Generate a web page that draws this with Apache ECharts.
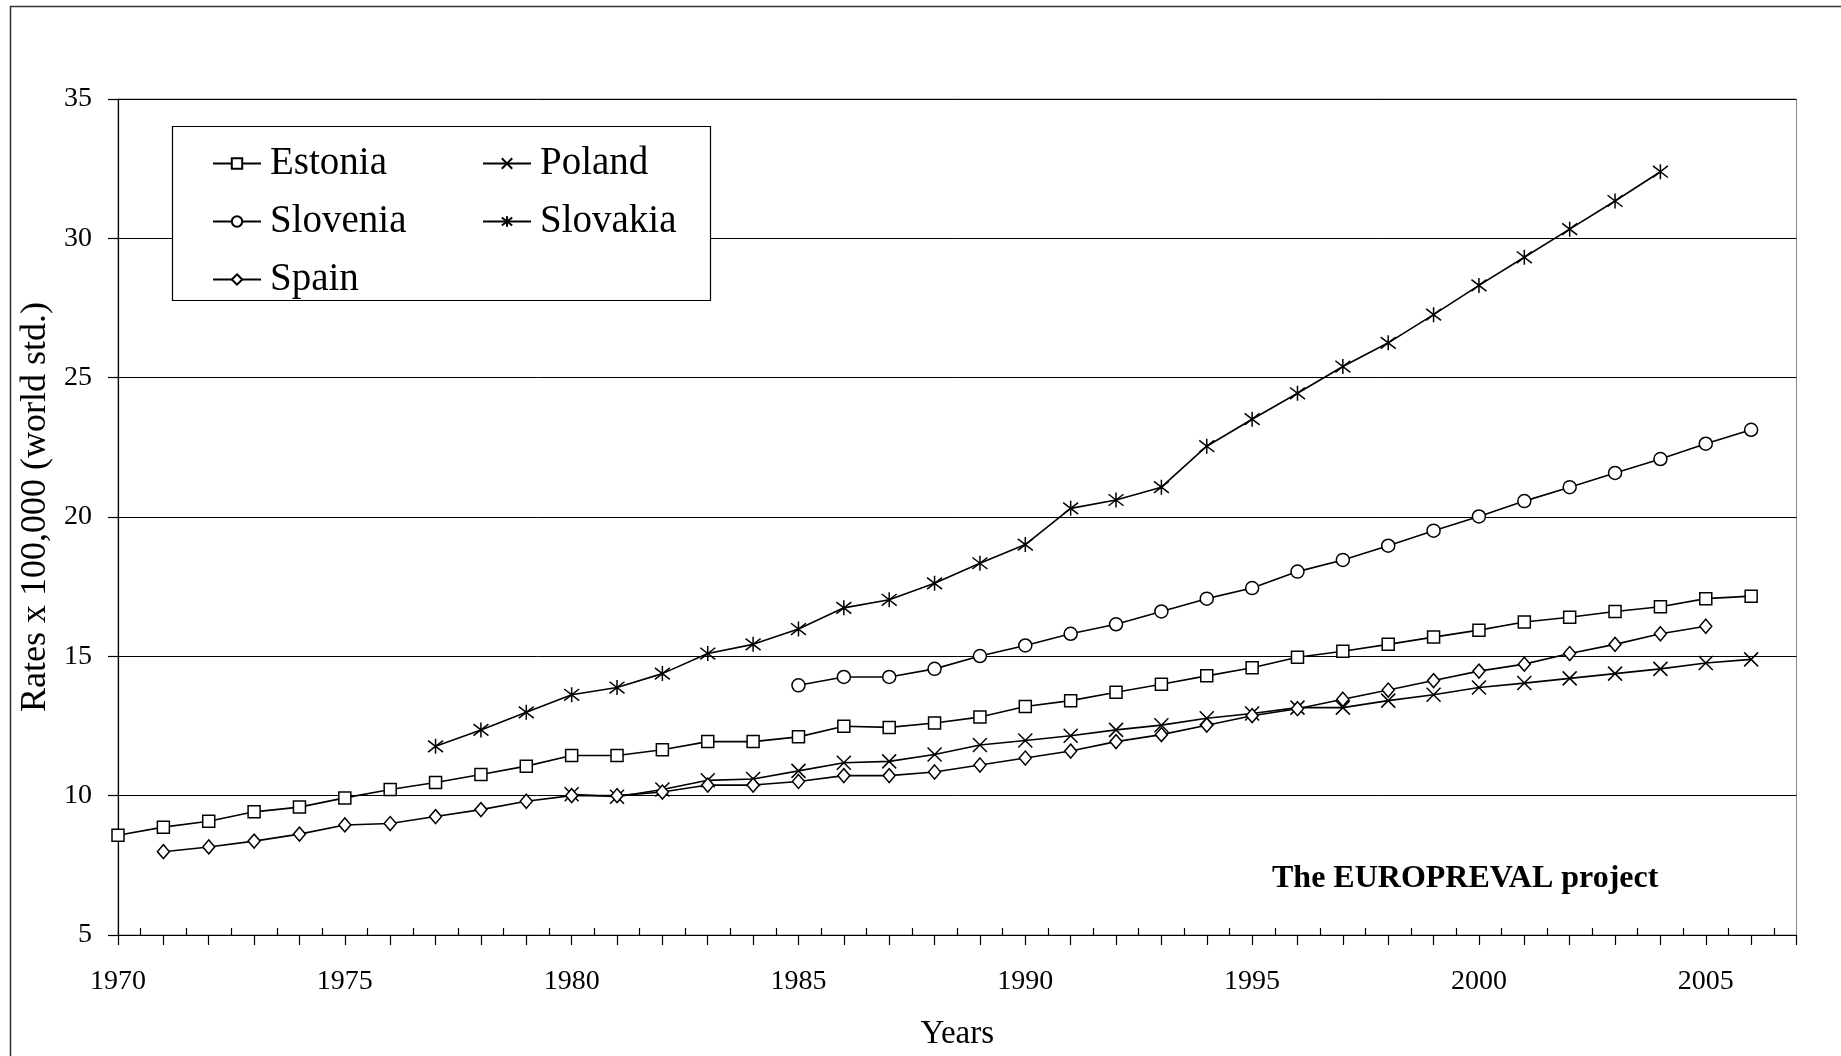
<!DOCTYPE html>
<html>
<head>
<meta charset="utf-8">
<script src="https://cdn.jsdelivr.net/npm/echarts@6/dist/echarts.min.js"></script>
<style>
html,body{margin:0;padding:0;background:#fff;}
#chart{width:1841px;height:1056px;}
</style>
</head>
<body>
<div id="chart"></div>
<script>
// ---- Data ----
const estoniaYears = [1970,1971,1972,1973,1974,1975,1976,1977,1978,1979,1980,1981,1982,1983,1984,1985,1986,1987,1988,1989,1990,1991,1992,1993,1994,1995,1996,1997,1998,1999,2000,2001,2002,2003,2004,2005,2006];
const estoniaValues = [8.58,8.87,9.08,9.42,9.59,9.92,10.22,10.47,10.76,11.06,11.44,11.44,11.65,11.94,11.94,12.11,12.49,12.45,12.61,12.82,13.2,13.41,13.71,14.0,14.3,14.59,14.97,15.18,15.43,15.69,15.94,16.23,16.4,16.61,16.78,17.07,17.16];

const spainYears = [1971,1972,1973,1974,1975,1976,1977,1978,1979,1980,1981,1982,1983,1984,1985,1986,1987,1988,1989,1990,1991,1992,1993,1994,1995,1996,1997,1998,1999,2000,2001,2002,2003,2004,2005];
const spainValues = [7.99,8.16,8.37,8.62,8.95,9.0,9.25,9.5,9.8,10.0,10.0,10.13,10.38,10.38,10.51,10.72,10.72,10.85,11.1,11.35,11.6,11.94,12.19,12.53,12.87,13.12,13.46,13.79,14.13,14.47,14.72,15.1,15.43,15.81,16.08];

const polandYears = [1980,1981,1982,1983,1984,1985,1986,1987,1988,1989,1990,1991,1992,1993,1994,1995,1996,1997,1998,1999,2000,2001,2002,2003,2004,2005,2006];
const polandValues = [10.05,9.96,10.22,10.55,10.6,10.89,11.18,11.23,11.48,11.82,11.98,12.15,12.36,12.53,12.78,12.95,13.16,13.16,13.41,13.62,13.88,14.04,14.21,14.38,14.55,14.76,14.89];

const sloveniaYears = [1985,1986,1987,1988,1989,1990,1991,1992,1993,1994,1995,1996,1997,1998,1999,2000,2001,2002,2003,2004,2005,2006];
const sloveniaValues = [13.96,14.26,14.26,14.55,15.01,15.39,15.81,16.15,16.61,17.07,17.45,18.04,18.46,18.97,19.51,20.02,20.57,21.07,21.58,22.08,22.63,23.13];

const slovakiaYears = [1977,1978,1979,1980,1981,1982,1983,1984,1985,1986,1987,1988,1989,1990,1991,1992,1993,1994,1995,1996,1997,1998,1999,2000,2001,2002,2003,2004];
const slovakiaValues = [11.77,12.36,12.99,13.62,13.88,14.38,15.1,15.43,15.98,16.74,17.03,17.62,18.34,19.01,20.31,20.61,21.07,22.54,23.51,24.44,25.4,26.25,27.26,28.31,29.32,30.33,31.34,32.39];

const yTicks = [5,10,15,20,25,30,35];
const xLabelYears = [1970,1975,1980,1985,1990,1995,2000,2005];

const seriesNames = ['Estonia','Poland','Slovenia','Slovakia','Spain'];
const titleX = 'Years';
const titleY = 'Rates x 100,000 (world std.)';
const note = 'The EUROPREVAL project';

// ---- Chart ----
const FONT = '"Liberation Serif", "Times New Roman", serif';
const pair = (xs, vs) => xs.map((x, i) => [x, vs[i]]);

const X_SYM = 'path://M0,0L10,10M10,0L0,10';
const AST_SYM = 'path://M0,0L10,10M10,0L0,10M5,-1.5L5,11.5';

function lineSeries(name, data, symbol, size) {
  return {
    name: name,
    type: 'line',
    data: data,
    symbol: symbol,
    symbolSize: size,
    showAllSymbol: true,
    lineStyle: { color: '#000', width: 1.6 },
    itemStyle: { color: '#fff', borderColor: '#000', borderWidth: 1.5 },
    emphasis: { disabled: true },
    animation: false,
    z: 3
  };
}

const legendBase = {
  orient: 'horizontal',
  padding: 0,
  itemWidth: 48,
  itemHeight: 13,
  selectedMode: false,
  textStyle: { fontFamily: FONT, fontSize: 39, color: '#000', lineHeight: 40, padding: [0, 0, 0, 4] },
  z: 10
};
const legendPos = {
  'Estonia': [212, 143.5],
  'Poland': [482, 143.5],
  'Slovenia': [212, 201.5],
  'Slovakia': [482, 201.5],
  'Spain': [212, 259.5]
};

const option = {
  backgroundColor: '#fff',
  animation: false,
  grid: {
    left: 118, right: 44.5, top: 99, bottom: 120.5,
    show: true, borderColor: '#888', borderWidth: 1, backgroundColor: 'transparent'
  },
  xAxis: {
    type: 'value',
    min: 1970, max: 2007, interval: 1,
    name: titleX,
    nameLocation: 'middle',
    nameGap: 83,
    nameTextStyle: { fontFamily: FONT, fontSize: 33, color: '#000' },
    axisLine: { show: true, lineStyle: { color: '#000', width: 1.2 } },
    axisTick: { show: true, inside: false, length: 10, lineStyle: { color: '#000', width: 1.2 } },
    minorTick: { show: true, splitNumber: 2, length: -7, lineStyle: { color: '#000', width: 1.2 } },
    splitLine: { show: false },
    minorSplitLine: { show: false },
    axisLabel: {
      fontFamily: FONT, fontSize: 28, color: '#000', margin: 33,
      formatter: v => (xLabelYears.indexOf(v) >= 0 ? String(v) : '')
    }
  },
  yAxis: {
    type: 'value',
    min: 5, max: 35, interval: 5,
    name: titleY,
    nameLocation: 'middle',
    nameGap: 58,
    nameTextStyle: { fontFamily: FONT, fontSize: 36, color: '#000', padding: [0, 0, 0, 20] },
    axisLine: { show: true, lineStyle: { color: '#000', width: 1.2 } },
    axisTick: { show: true, inside: false, length: 10, lineStyle: { color: '#000', width: 1.2 } },
    splitLine: { show: true, lineStyle: { color: '#000', width: 1 } },
    axisLabel: {
      fontFamily: FONT, fontSize: 28, color: '#000', margin: 26,
      formatter: v => (yTicks.indexOf(v) >= 0 ? String(v) : '')
    }
  },
  legend: seriesNames.map(n => Object.assign({}, legendBase, {
    data: [n], left: legendPos[n][0], top: legendPos[n][1]
  })),
  graphic: [
    {
      type: 'rect', left: 8, top: 4, z: 0, silent: true,
      shape: { x: 0, y: 0, width: 2000, height: 2000 },
      style: { fill: 'none', stroke: '#333', lineWidth: 1.5 }
    },
    {
      type: 'rect', z: 8, silent: true,
      shape: { x: 172.5, y: 126.5, width: 538, height: 174 },
      style: { fill: '#fff', stroke: '#000', lineWidth: 1.2 }
    },
    {
      type: 'text', z: 8, silent: true,
      left: 1272, top: 863,
      style: { text: note, fontFamily: FONT, fontSize: 32, fontWeight: 'bold', fill: '#000' }
    }
  ],
  series: [
    lineSeries('Estonia', pair(estoniaYears, estoniaValues), 'rect', 12),
    lineSeries('Poland', pair(polandYears, polandValues), X_SYM, 14),
    lineSeries('Slovenia', pair(sloveniaYears, sloveniaValues), 'circle', 13),
    lineSeries('Slovakia', pair(slovakiaYears, slovakiaValues), AST_SYM, 15),
    lineSeries('Spain', pair(spainYears, spainValues), 'diamond', [12, 14])
  ]
};

const chart = echarts.init(document.getElementById('chart'), null, { renderer: 'canvas' });
chart.setOption(option);
</script>
</body>
</html>
